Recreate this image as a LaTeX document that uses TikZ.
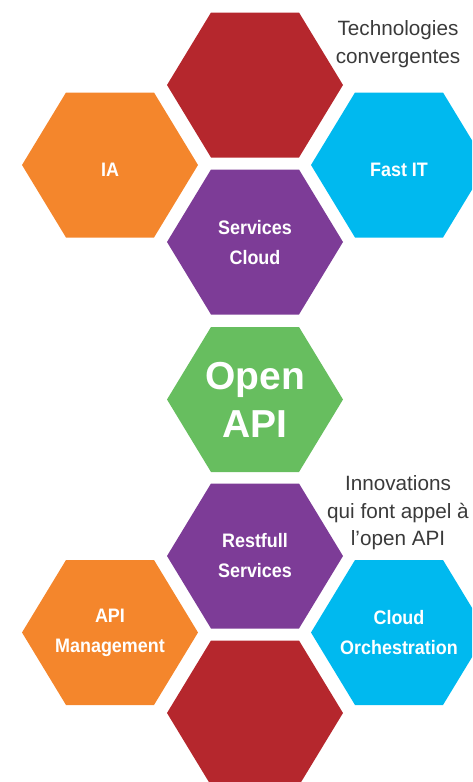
\documentclass[tikz,border=0pt]{standalone}
\usepackage{fontspec}
\setmainfont{Liberation Sans}
\newfontfamily\cellfont[FakeStretch=0.92]{Liberation Sans}
\usepackage{tikz}
\usepackage{xcolor}

\definecolor{hexred}{HTML}{B5272D}
\definecolor{hexorange}{HTML}{F4862C}
\definecolor{hexcyan}{HTML}{00B9EF}
\definecolor{hexpurple}{HTML}{7D3C97}
\definecolor{hexgreen}{HTML}{67BE5F}
\definecolor{notegray}{HTML}{3A3A3A}

\tikzset{
    celltext/.style={text=white,align=center,inner sep=0pt,
        font=\cellfont\bfseries\fontsize{19.5}{30}\selectfont},
    bigtext/.style={text=white,align=center,inner sep=0pt,
        font=\bfseries\fontsize{39}{48}\selectfont},
    notetext/.style={text=notegray,align=center,inner sep=0pt,
        font=\fontsize{20.7}{27.5}\selectfont}
}

\begin{document}
\begin{tikzpicture}[x=1pt,y=-1pt]
    \useasboundingbox (0,0) rectangle (472,782);
    \clip (0,0) rectangle (472,782);

    % Upper cells
    \fill [hexred] (255,85) +(-88,0) -- +(-44,-72.5) -- +(44,-72.5)
        -- +(88,0) -- +(44,72.5) -- +(-44,72.5) -- cycle;
    \fill [hexorange] (110,165) +(-88,0) -- +(-44,-72.5) -- +(44,-72.5)
        -- +(88,0) -- +(44,72.5) -- +(-44,72.5) -- cycle;
    \fill [hexcyan] (399,165) +(-88,0) -- +(-44,-72.5) -- +(44,-72.5)
        -- +(88,0) -- +(44,72.5) -- +(-44,72.5) -- cycle;
    \fill [hexpurple] (255,242) +(-88,0) -- +(-44,-72.5) -- +(44,-72.5)
        -- +(88,0) -- +(44,72.5) -- +(-44,72.5) -- cycle;

    % Centre cell
    \fill [hexgreen] (255,399.5) +(-88,0) -- +(-44,-72.5) -- +(44,-72.5)
        -- +(88,0) -- +(44,72.5) -- +(-44,72.5) -- cycle;

    % Lower cells
    \fill [hexpurple] (255,556) +(-88,0) -- +(-44,-72.5) -- +(44,-72.5)
        -- +(88,0) -- +(44,72.5) -- +(-44,72.5) -- cycle;
    \fill [hexorange] (110,632.5) +(-88,0) -- +(-44,-72.5) -- +(44,-72.5)
        -- +(88,0) -- +(44,72.5) -- +(-44,72.5) -- cycle;
    \fill [hexcyan] (399,632.5) +(-88,0) -- +(-44,-72.5) -- +(44,-72.5)
        -- +(88,0) -- +(44,72.5) -- +(-44,72.5) -- cycle;
    \fill [hexred] (255,713) +(-88,0) -- +(-44,-72.5) -- +(44,-72.5)
        -- +(88,0) -- +(44,72.5) -- +(-44,72.5) -- cycle;

    % Cell labels
    \node [celltext] (ia) at (110,170) {IA};
    \node [celltext] (fastit) at (399,170) {Fast IT};
    \node [celltext] (cloudsvc) at (255,243) {Services\\Cloud};
    \node [bigtext] (openapi) at (255,400) {Open\\API};
    \node [celltext] (restfull) at (255,556) {Restfull\\Services};
    \node [celltext] (apimgmt) at (110,633) {API\\Management};
    \node [celltext] (orchestr) at (399,633) {Cloud\\Orchestration};

    % Side notes
    \node [notetext] (techconv) at (398,44) {Technologies\\convergentes};
    \node [notetext] (innov) at (398,513) {Innovations\\qui font appel à\\l’open API};
\end{tikzpicture}
\end{document}
